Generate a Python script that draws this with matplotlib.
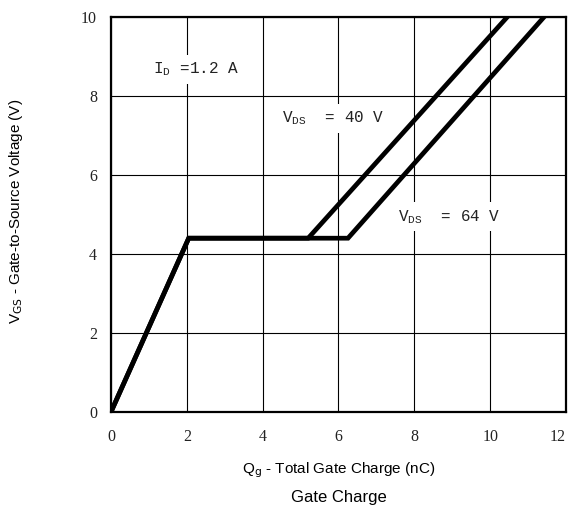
import matplotlib
matplotlib.use("Agg")
import matplotlib.pyplot as plt

# Data (Qg in nC, Vgs in V)
qg_40 = [0.0, 2.05, 5.2, 10.45]
vgs_40 = [0.0, 4.4, 4.4, 10.0]
qg_64 = [0.0, 2.05, 6.25, 11.42]
vgs_64 = [0.0, 4.4, 4.4, 10.0]
xticks = [0, 2, 4, 6, 8, 10, 12]
yticks = [0, 2, 4, 6, 8, 10]

plt.rcParams['mathtext.fontset'] = 'custom'
plt.rcParams['mathtext.rm'] = 'Liberation Mono'

fig = plt.figure(figsize=(5.68, 5.19), dpi=100)
ax = fig.add_axes([0.1954, 0.2062, 0.8011, 0.761])

ax.plot(qg_64, vgs_64, color='black', lw=3.4, solid_joinstyle='miter', zorder=3)
ax.plot(qg_40, vgs_40, color='black', lw=3.4, solid_joinstyle='miter', zorder=3)

ax.set_xlim(0, 12)
ax.set_ylim(0, 10)
ax.set_xticks(xticks)
ax.set_yticks(yticks)
ax.grid(True, color='black', lw=0.8)
ax.set_axisbelow(True)
ax.tick_params(length=0, labelsize=11.5)
ax.tick_params(axis='x', pad=12)
ax.tick_params(axis='y', pad=10)
for lab in ax.get_xticklabels() + ax.get_yticklabels():
    lab.set_fontfamily('Liberation Serif')
    lab.set_color('#222222')
xl = ax.get_xticklabels()
xl[-1].set_horizontalalignment('right')
for s in ax.spines.values():
    s.set_linewidth(1.6)

tkw = dict(family='Liberation Mono', fontsize=11.5, color='#222222', zorder=2,
           bbox=dict(facecolor='white', edgecolor='none', pad=4))
ax.text(1.12, 8.68, r'I$_\mathregular{D}$ =1.2 A', va='center', ha='left', **tkw)
ax.text(4.50, 7.44, r'V$_\mathregular{DS}$  = 40 V', va='center', ha='left', **tkw)
ax.text(7.58, 4.94, r'V$_\mathregular{DS}$  = 64 V', va='center', ha='left', **tkw)

fig.text(0.028, 0.5935, r'V$_{\mathsf{GS}}$ - Gate-to-Source Voltage (V)', rotation=90,
         ha='center', va='center', family='Liberation Sans', fontsize=11,
         math_fontfamily='dejavusans')
fig.text(0.596, 0.094, r'Q$_{\mathsf{g}}$ - Total Gate Charge (nC)', ha='center', va='center',
         family='Liberation Sans', fontsize=11, math_fontfamily='dejavusans')
fig.text(0.596, 0.042, 'Gate Charge', ha='center', va='center',
         family='Liberation Sans', fontsize=12)

fig.savefig('out.png', dpi=100)
